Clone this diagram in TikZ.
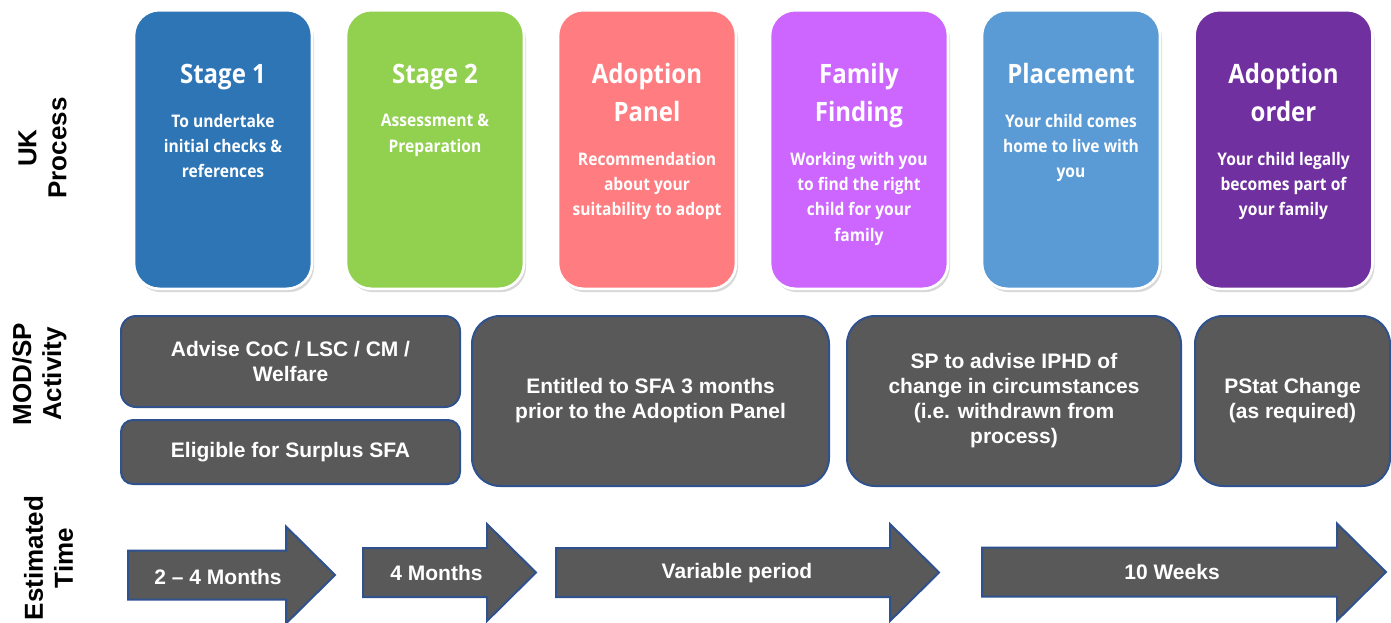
\documentclass[tikz,border=0pt]{standalone}
\usepackage{fontspec}
\setmainfont{Liberation Sans}
\newfontfamily\cardfont{Open Sans}[FakeStretch=0.9]
\usepackage{tikz}
\usetikzlibrary{calc,shadows}
\definecolor{stageone}{HTML}{2E75B6}
\definecolor{stagetwo}{HTML}{92D050}
\definecolor{panelred}{HTML}{FF7C80}
\definecolor{findviolet}{HTML}{CC66FF}
\definecolor{placeblue}{HTML}{5B9BD5}
\definecolor{orderpurple}{HTML}{7030A0}
\definecolor{slate}{HTML}{595959}
\definecolor{edgeblue}{HTML}{2F528F}
\tikzset{
	card/.style={draw=white, line width=2pt, rounded corners=19pt, minimum width=133.5pt, minimum height=209pt, drop shadow={shadow xshift=1.5pt, shadow yshift=-2.5pt, opacity=0.3}},
	cardtitle/.style={text=white, align=center, inner sep=0pt, anchor=base, font=\cardfont\bfseries\fontsize{20}{28.5}\selectfont},
	cardtext/.style={text=white, align=center, inner sep=0pt, anchor=base, font=\cardfont\bfseries\fontsize{13}{19}\selectfont},
	rowlabel/.style={rotate=90, align=center, inner sep=0pt, font=\bfseries\fontsize{19.5}{22.5}\selectfont},
	actbox/.style={fill=slate, draw=edgeblue, line width=1.5pt, text=white, align=center, font=\bfseries\fontsize{15.75}{18.75}\selectfont},
	timeshape/.style={fill=slate, draw=edgeblue, line width=1.5pt, line join=miter},
	timetext/.style={text=white, inner sep=0pt, font=\bfseries\fontsize{15.75}{18.75}\selectfont}
}
\def\timearrow(#1:#2:#3){\draw[timeshape] (#1,#3-24.5) -- (#2,#3-24.5) -- (#2,#3-48.5) -- (#2+49,#3) -- (#2,#3+48.5) -- (#2,#3+24.5) -- (#1,#3+24.5) -- cycle;}

\begin{document}
\begin{tikzpicture}[x=0.75pt, y=-0.75pt]
	%%%%% START %%%%%
	
	\fill[white] (0,0) rectangle (1391,622);
	\useasboundingbox (0,0) rectangle (1391,622);
	
	% row labels
	\node[rowlabel] (uk) at (42.5,148) {UK\\Process};
	\node[rowlabel] (mod) at (39.5,374) {MOD/SP\\Activity};
	\node[rowlabel] (est) at (48.5,558) {Estimated\\Time};
	
	% UK process cards (base = last line)
	\node[card, fill=stageone] (s1) at (223,149.5) {};
	\node[cardtitle] (s1t) at (223,83) {Stage 1};
	\node[cardtext] (s1s) at (223,177.7) {To undertake\\initial checks \&\\references};
	
	\node[card, fill=stagetwo] (s2) at (435,149.5) {};
	\node[cardtitle] (s2t) at (435,83) {Stage 2};
	\node[cardtext] (s2s) at (435,152.3) {Assessment \&\\Preparation};
	
	\node[card, fill=panelred] (s3) at (647,149.5) {};
	\node[cardtitle] (s3t) at (647,121) {Adoption\\Panel};
	\node[cardtext] (s3s) at (647,215.7) {Recommendation\\about your\\suitability to adopt};
	
	\node[card, fill=findviolet] (s4) at (859,149.5) {};
	\node[cardtitle] (s4t) at (859,121) {Family\\Finding};
	\node[cardtext] (s4s) at (859,241) {Working with you\\to find the right\\child for your\\family};
	
	\node[card, fill=placeblue] (s5) at (1071,149.5) {};
	\node[cardtitle] (s5t) at (1071,83) {Placement};
	\node[cardtext] (s5s) at (1071,177.7) {Your child comes\\home to live with\\you};
	
	\node[card, fill=orderpurple] (s6) at (1283.5,149.5) {};
	\node[cardtitle] (s6t) at (1283.5,121) {Adoption\\order};
	\node[cardtext] (s6s) at (1283.5,215.7) {Your child legally\\becomes part of\\your family};
	
	% MOD/SP activity
	\node[actbox, minimum width=254.25pt, minimum height=68.25pt, rounded corners=11.25pt] (advise) at (290.5,361.5) {Advise CoC / LSC / CM /\\Welfare};
	\node[actbox, minimum width=254.25pt, minimum height=48pt, rounded corners=9pt] (surplus) at (290.5,452) {Eligible for Surplus SFA};
	\node[actbox, minimum width=267.75pt, minimum height=127.5pt, rounded corners=21pt] (entitled) at (650.5,401) {Entitled to SFA 3 months\\prior to the Adoption Panel};
	\node[actbox, minimum width=250.5pt, minimum height=127.5pt, rounded corners=21pt] (iphd) at (1014,401) {SP to advise IPHD of\\change in circumstances\\(i.e. withdrawn from\\process)};
	\node[actbox, minimum width=146.25pt, minimum height=127.5pt, rounded corners=21pt] (pstat) at (1292.5,401) {PStat Change\\(as required)};
	
	% estimated time
	\timearrow(128:286:575)
	\node[timetext] (t1) at (218,577) {2 -- 4 Months};
	\timearrow(363:487:572.5)
	\node[timetext] (t2) at (436.5,573) {4 Months};
	\timearrow(556:890:572.5)
	\node[timetext] (t3) at (737,573) {Variable period};
	\timearrow(982:1337:572)
	\node[timetext] (t4) at (1172,572) {10 Weeks};
	
	%%%%% END %%%%%
\end{tikzpicture}
\end{document}
